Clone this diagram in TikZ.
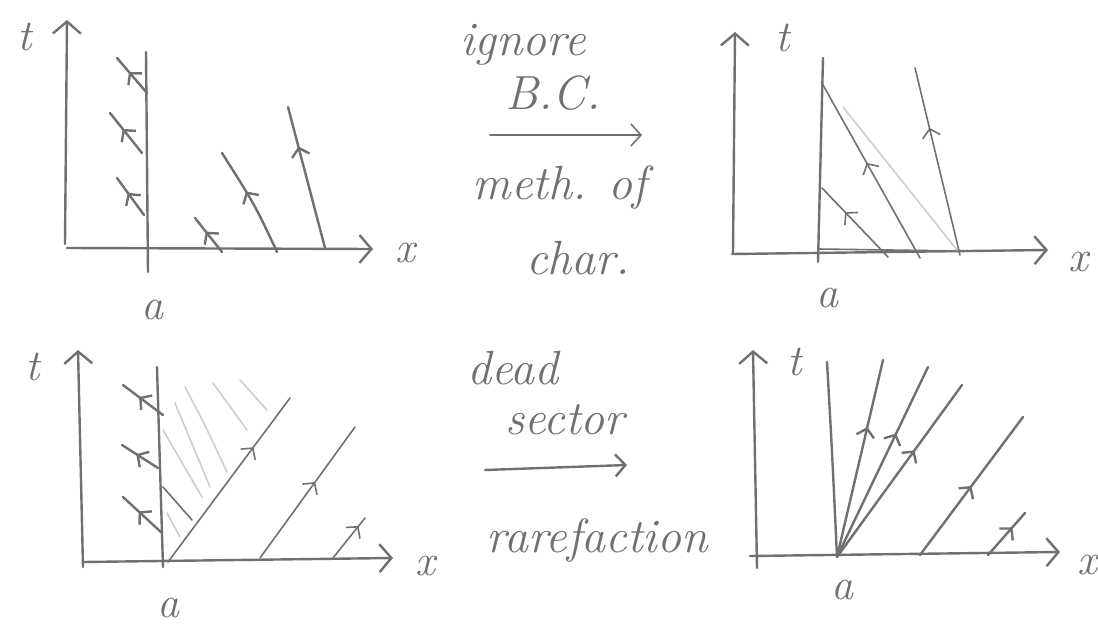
\documentclass[tikz,border=0pt]{standalone}
\usetikzlibrary{arrows.meta,decorations.markings}
\definecolor{ink}{RGB}{112,112,112}
\definecolor{faint}{RGB}{205,205,205}
\begin{document}
\begin{tikzpicture}[x=1pt,y=-1pt,
  ln/.style={draw=ink,line width=2.4pt,line cap=round},
  thin/.style={draw=ink,line width=1.6pt,line cap=round},
  hatch/.style={draw=faint,line width=1.6pt,line cap=round},
  axis/.style={ln,-{Straight Barb[length=12pt,width=28pt]}},
  midarr/.style={postaction={decorate},decoration={markings,mark=at position #1 with {\arrow{Straight Barb[length=8pt,width=18pt]}}}},
  lbl/.style={text=ink,font=\fontsize{44}{48}\selectfont\itshape,inner sep=0pt},
  txt/.style={text=ink,font=\fontsize{48}{52}\selectfont\itshape,inner sep=0pt}]
\useasboundingbox (0,0) rectangle (1098,631);
% ---------- panel 1 ----------
\coordinate (a1b) at (65,244); \coordinate (a1t) at (67,20);
\coordinate (x1b) at (67,248); \coordinate (x1e) at (373,249);
\coordinate (w1b) at (148,272); \coordinate (w1t) at (146,52);
\draw[axis] (a1b) -- (a1t);
\draw[axis] (x1b) -- (x1e);
\draw[ln] (w1b) -- (w1t);
\coordinate (c11a) at (147,93);  \coordinate (c11b) at (117,58);
\coordinate (c12a) at (142,153); \coordinate (c12b) at (110,113);
\coordinate (c13a) at (144,215); \coordinate (c13b) at (117,178);
\draw[ln,midarr=0.6] (c11a) -- (c11b);
\draw[ln,midarr=0.6] (c12a) -- (c12b);
\draw[ln,midarr=0.6] (c13a) -- (c13b);
\coordinate (r11a) at (222,252); \coordinate (r11b) at (195,218);
\coordinate (r12a) at (277,252); \coordinate (r12b) at (222,153);
\coordinate (r13a) at (325,248); \coordinate (r13b) at (288,107);
\draw[ln,midarr=0.6] (r11a) -- (r11b);
\draw[ln,midarr=0.6] (r12a) .. controls (255,205) .. (r12b);
\draw[ln,midarr=0.72] (r13a) -- (r13b);
\node[lbl] (t1) at (25,37) {t};
\node[lbl] (xl1) at (405,253) {x};
\node[lbl] (al1) at (152,310) {a};
% ---------- panel 2 ----------
\coordinate (a2b) at (733,253); \coordinate (a2t) at (735,32);
\coordinate (x2b) at (732,254); \coordinate (x2e) at (1048,250);
\coordinate (w2b) at (818,262); \coordinate (w2t) at (823,58);
\draw[axis] (a2b) -- (a2t);
\draw[axis] (x2b) -- (x2e);
\draw[thin] (818,249) -- (960,251);
\draw[ln] (w2b) -- (w2t);
\coordinate (c21a) at (888,257); \coordinate (c21b) at (822,188);
\coordinate (c22a) at (920,258); \coordinate (c22b) at (823,85);
\coordinate (c23a) at (960,255); \coordinate (c23b) at (915,68);
\coordinate (f2a) at (843,107); \coordinate (f2b) at (957,250);
\draw[hatch] (f2a) -- (f2b);
\draw[thin,midarr=0.65] (c21a) -- (c21b);
\draw[thin,midarr=0.55] (c22a) -- (c22b);
\draw[thin,midarr=0.68] (c23a) -- (c23b);
\node[lbl] (t2) at (783,38) {t};
\node[lbl] (xl2) at (1078,262) {x};
\node[lbl] (al2) at (827,298) {a};
% ---------- panel 3 ----------
\coordinate (a3b) at (83,567); \coordinate (a3t) at (78,350);
\coordinate (x3b) at (83,562); \coordinate (x3e) at (393,558);
\coordinate (w3b) at (163,567); \coordinate (w3t) at (157,367);
% dead sector hatching
\draw[hatch] (185,387) .. controls (205,425) .. (227,472);
\draw[hatch] (213,383) -- (247,430);
\draw[hatch] (240,380) -- (267,410);
\draw[hatch] (175,403) .. controls (192,445) .. (210,487);
\draw[hatch] (163,430) -- (202,497);
\draw[hatch] (167,513) -- (180,537);
\draw[thin] (163,487) -- (192,520);
\draw[axis] (a3b) -- (a3t);
\draw[axis] (x3b) -- (x3e);
\draw[ln] (w3b) -- (w3t);
\coordinate (c31a) at (163,415); \coordinate (c31b) at (123,385);
\coordinate (c32a) at (158,468); \coordinate (c32b) at (122,445);
\coordinate (c33a) at (162,533); \coordinate (c33b) at (123,497);
\draw[ln,midarr=0.6] (c31a) -- (c31b);
\draw[ln,midarr=0.6] (c32a) -- (c32b);
\draw[ln,midarr=0.6] (c33a) -- (c33b);
\coordinate (r31a) at (168,562); \coordinate (r31b) at (290,398);
\coordinate (r32a) at (260,558); \coordinate (r32b) at (355,427);
\coordinate (r33a) at (333,558); \coordinate (r33b) at (365,518);
\draw[thin,midarr=0.7] (r31a) -- (r31b);
\draw[thin,midarr=0.58] (r32a) -- (r32b);
\draw[thin,midarr=0.8] (r33a) -- (r33b);
\node[lbl] (t3) at (33,367) {t};
\node[lbl] (xl3) at (425,566) {x};
\node[lbl] (al3) at (168,608) {a};
% ---------- panel 4 ----------
\coordinate (a4b) at (757,568); \coordinate (a4t) at (753,350);
\coordinate (x4b) at (750,556); \coordinate (x4e) at (1060,552);
\coordinate (o4) at (837,557);
\draw[axis] (a4b) -- (a4t);
\draw[axis] (x4b) -- (x4e);
\coordinate (f41) at (827,362);
\coordinate (f42) at (883,360);
\coordinate (f43) at (928,367);
\coordinate (f44) at (962,385);
\draw[ln] (o4) .. controls (832,450) .. (f41);
\draw[ln,midarr=0.66] (o4) -- (f42);
\draw[ln,midarr=0.65] (o4) -- (f43);
\draw[ln,midarr=0.62] (o4) -- (f44);
\coordinate (r41a) at (920,555); \coordinate (r41b) at (1023,417);
\coordinate (r42a) at (988,555); \coordinate (r42b) at (1025,513);
\draw[ln,midarr=0.5] (r41a) -- (r41b);
\draw[ln,midarr=0.66] (r42a) -- (r42b);
\node[lbl] (t4) at (795,362) {t};
\node[lbl] (xl4) at (1087,565) {x};
\node[lbl] (al4) at (842,590) {a};
% ---------- middle ----------
\node[txt] (ign) at (523,45) {ignore};
\node[txt] (bc) at (553,93) {B.C.};
\node[txt] (meth) at (560,188) {meth. of};
\node[txt] (char) at (578,258) {char.};
\coordinate (m1a) at (490,135); \coordinate (m1b) at (642,135);
\draw[thin,-{Straight Barb[length=10pt,width=22pt]}] (m1a) -- (m1b);
\node[txt] (dead) at (513,368) {dead};
\node[txt] (sect) at (565,420) {sector};
\node[txt] (rare) at (597,540) {rarefaction};
\coordinate (m2a) at (485,470); \coordinate (m2b) at (627,465);
\draw[ln,-{Straight Barb[length=10pt,width=22pt]}] (m2a) -- (m2b);
\end{tikzpicture}
\end{document}
